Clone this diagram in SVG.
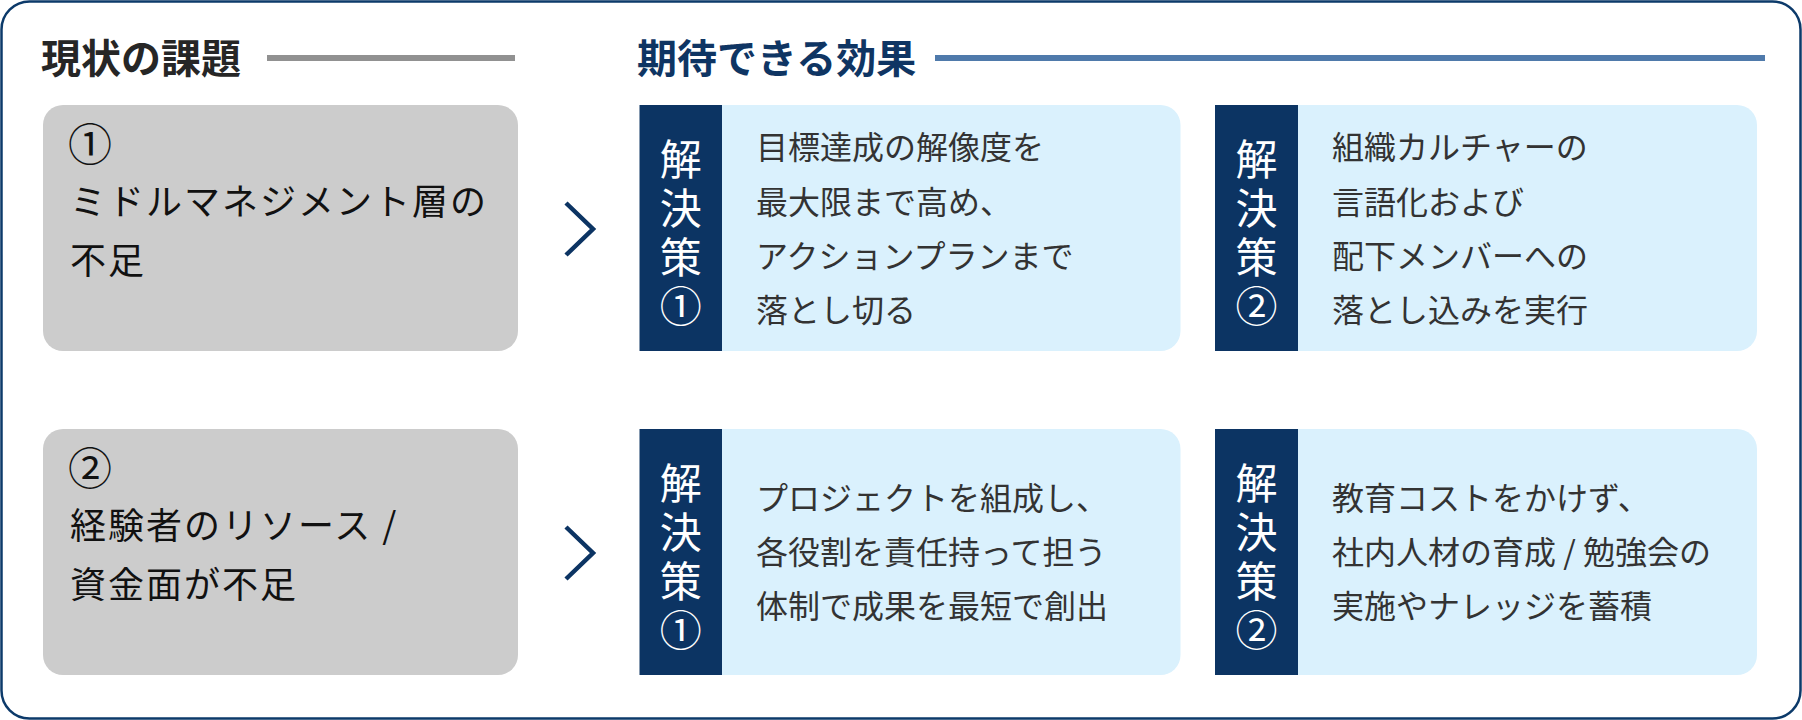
<svg xmlns="http://www.w3.org/2000/svg" width="1802" height="720" viewBox="0 0 1802 720">
<style>
.t{font-family:"Noto Sans CJK JP","Noto Sans CJK SC",sans-serif;}
.h1{font-size:40px;font-weight:700;fill:#262626;}
.h2{font-size:40px;font-weight:700;fill:#0f3563;}
.issue{fill:#cccccc;}
.itxt{font-size:36px;fill:#111111;letter-spacing:2px;}
.inum{font-size:44px;letter-spacing:0;}
.tab{fill:#0c3463;}
.panel{fill:#daf1fd;}
.ttxt{font-size:42px;fill:#ffffff;writing-mode:vertical-rl;letter-spacing:6.8px;text-orientation:upright;}
.btxt{font-size:32px;fill:#333333;}
.chev{fill:none;stroke:#0c3463;stroke-width:4.5;}
</style>
<rect x="1.5" y="1.5" width="1799" height="717" rx="28" fill="#ffffff" stroke="#0c3a6a" stroke-width="2.5"/>
<g id="title-current">
<text class="t h1" x="41" y="73">現状の課題</text>
<rect x="267" y="55" width="248" height="6" fill="#919191"/>
</g>
<g id="title-effects">
<text class="t h2" x="637" y="73">期待できる効果</text>
<rect x="935" y="55" width="830" height="6" fill="#4f7aab"/>
</g>
<g id="issue-1">
<rect class="issue" x="43" y="105" width="475" height="246" rx="20"/>
<text class="t itxt"><tspan class="inum" x="68" y="161">①</tspan><tspan x="70" y="215">ミドルマネジメント層の</tspan><tspan x="70" y="273.5">不足</tspan></text>
</g>
<g id="issue-2">
<rect class="issue" x="43" y="429" width="475" height="246" rx="20"/>
<text class="t itxt"><tspan class="inum" x="68" y="485">②</tspan><tspan x="70" y="539">経験者のリソース /</tspan><tspan x="70" y="597.5">資金面が不足</tspan></text>
</g>
<g id="solution-1a">
<rect class="tab" x="639.5" y="105" width="82.5" height="246"/>
<path class="panel" d="M722,105H1160.5A20,20 0 0 1 1180.5,125V331A20,20 0 0 1 1160.5,351H722Z"/>
<text class="t ttxt" x="680.7" y="138.5">解決策①</text>
<text class="t btxt"><tspan x="756" y="159">目標達成の解像度を</tspan><tspan x="756" y="214">最大限まで高め、</tspan><tspan x="756" y="268">アクションプランまで</tspan><tspan x="756" y="322">落とし切る</tspan></text>
</g>
<g id="solution-1b">
<rect class="tab" x="1215" y="105" width="83" height="246"/>
<path class="panel" d="M1298,105H1737A20,20 0 0 1 1757,125V331A20,20 0 0 1 1737,351H1298Z"/>
<text class="t ttxt" x="1256.5" y="138.5">解決策②</text>
<text class="t btxt"><tspan x="1332" y="159">組織カルチャーの</tspan><tspan x="1332" y="214">言語化および</tspan><tspan x="1332" y="268">配下メンバーへの</tspan><tspan x="1332" y="322">落とし込みを実行</tspan></text>
</g>
<g id="solution-2a">
<rect class="tab" x="639.5" y="429" width="82.5" height="246"/>
<path class="panel" d="M722,429H1160.5A20,20 0 0 1 1180.5,449V655A20,20 0 0 1 1160.5,675H722Z"/>
<text class="t ttxt" x="680.7" y="462.5">解決策①</text>
<text class="t btxt"><tspan x="756" y="510">プロジェクトを組成し、</tspan><tspan x="756" y="564">各役割を責任持って担う</tspan><tspan x="756" y="618">体制で成果を最短で創出</tspan></text>
</g>
<g id="solution-2b">
<rect class="tab" x="1215" y="429" width="83" height="246"/>
<path class="panel" d="M1298,429H1737A20,20 0 0 1 1757,449V655A20,20 0 0 1 1737,675H1298Z"/>
<text class="t ttxt" x="1256.5" y="462.5">解決策②</text>
<text class="t btxt"><tspan x="1332" y="510">教育コストをかけず、</tspan><tspan x="1332" y="564">社内人材の育成 / 勉強会の</tspan><tspan x="1332" y="618">実施やナレッジを蓄積</tspan></text>
</g>
<g id="connectors">
<polyline class="chev" points="566,203 593,229 566,255"/>
<polyline class="chev" points="566,527 593,553 566,579"/>
</g>
</svg>
